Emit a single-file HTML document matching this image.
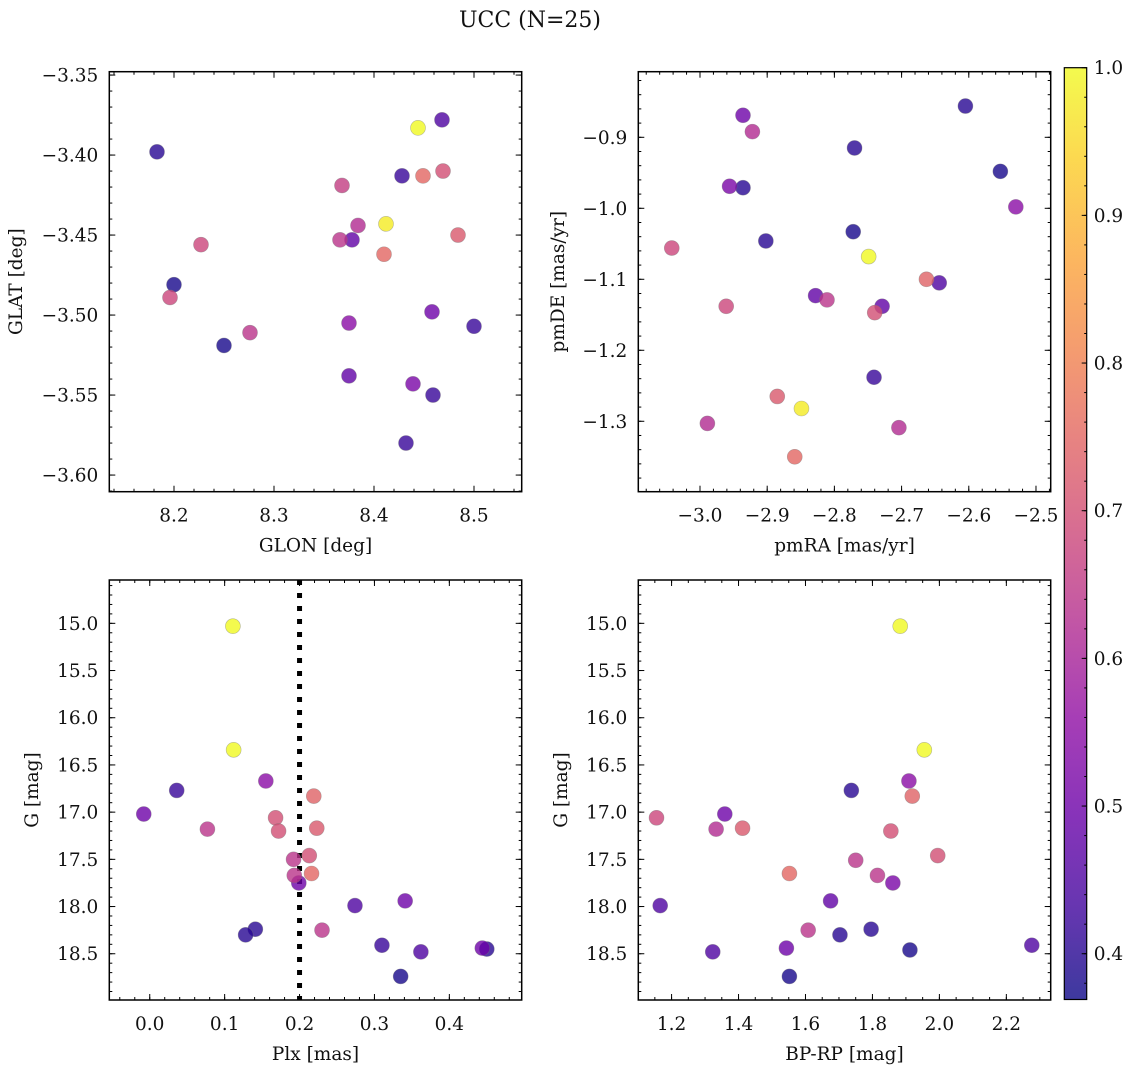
<!DOCTYPE html>
<html><head><meta charset="utf-8">
<style>
html,body{margin:0;padding:0;background:#fff;}
svg{display:block;}
text{font-family:"DejaVu Serif","Liberation Serif",serif;fill:#111;}
</style></head>
<body>
<svg id="fig" width="1136" height="1067" viewBox="0 0 1136 1067" xmlns="http://www.w3.org/2000/svg">
<text x="530" y="27" font-size="22" text-anchor="middle">UCC (N=25)</text>
</svg>
<script>
// ---------- data ----------
const glon = [8.183,8.444,8.468,8.428,8.449,8.469,8.368,8.384,8.412,8.366,8.378,8.484,8.410,8.227,8.200,8.196,8.276,8.250,8.375,8.458,8.500,8.375,8.439,8.459,8.432];
const glat = [-3.398,-3.383,-3.378,-3.413,-3.413,-3.410,-3.419,-3.444,-3.443,-3.453,-3.453,-3.450,-3.462,-3.456,-3.481,-3.489,-3.511,-3.519,-3.505,-3.498,-3.507,-3.538,-3.543,-3.550,-3.580];
const probA = [0.40,1.0,0.45,0.42,0.75,0.70,0.66,0.62,0.98,0.64,0.48,0.72,0.75,0.68,0.38,0.68,0.64,0.38,0.55,0.50,0.42,0.48,0.52,0.42,0.42];

const pmra = [-2.605,-2.936,-2.922,-2.770,-2.956,-2.936,-2.553,-2.530,-2.902,-3.042,-2.772,-2.749,-2.663,-2.644,-2.828,-2.811,-2.961,-2.729,-2.740,-2.741,-2.885,-2.849,-2.989,-2.704,-2.859];
const pmde = [-0.856,-0.869,-0.892,-0.915,-0.969,-0.971,-0.948,-0.998,-1.046,-1.056,-1.033,-1.068,-1.100,-1.105,-1.123,-1.129,-1.138,-1.138,-1.147,-1.238,-1.265,-1.282,-1.303,-1.309,-1.350];
const probB = [0.40,0.50,0.62,0.40,0.52,0.40,0.38,0.55,0.40,0.68,0.38,1.0,0.74,0.45,0.48,0.64,0.68,0.48,0.70,0.42,0.72,0.98,0.62,0.62,0.75];

const plx = [0.111,0.112,0.155,0.036,-0.008,0.077,0.219,0.168,0.172,0.223,0.213,0.192,0.216,0.193,0.199,0.274,0.341,0.141,0.128,0.230,0.310,0.362,0.335,0.444,0.450];
const gmagC = [15.03,16.34,16.67,16.77,17.02,17.18,16.83,17.06,17.20,17.17,17.46,17.50,17.65,17.67,17.75,17.99,17.94,18.24,18.30,18.25,18.41,18.48,18.74,18.44,18.45];
const probC = [1.0,1.0,0.55,0.42,0.50,0.64,0.74,0.70,0.70,0.72,0.70,0.64,0.75,0.64,0.50,0.45,0.50,0.40,0.40,0.64,0.42,0.45,0.38,0.50,0.40];
const plxLine = 0.2;

const bprp = [1.883,1.955,1.909,1.919,1.737,1.155,1.359,1.333,1.412,1.855,1.995,1.750,1.552,1.815,1.861,1.675,1.166,1.608,1.796,1.703,1.543,1.323,1.912,2.276,1.552];
const gmagD = [15.03,16.34,16.67,16.83,16.77,17.06,17.02,17.18,17.17,17.20,17.46,17.51,17.65,17.67,17.75,17.94,17.99,18.25,18.24,18.30,18.44,18.48,18.46,18.41,18.74];
const probD = [1.0,1.0,0.55,0.74,0.40,0.68,0.50,0.62,0.72,0.70,0.70,0.64,0.75,0.64,0.52,0.48,0.45,0.64,0.40,0.40,0.50,0.45,0.38,0.45,0.38];

const cbTicks = [0.4,0.5,0.6,0.7,0.8,0.9,1.0];
const cMin = 0.369, cMax = 1.0;

// ---------- helpers ----------
const NS = "http://www.w3.org/2000/svg";
const svg = document.getElementById('fig');
const FS = 18.5;
function mk(tag, attrs, parent){
  const e = document.createElementNS(NS, tag);
  for (const k in attrs) e.setAttribute(k, attrs[k]);
  (parent||svg).appendChild(e);
  return e;
}
const plasmaStops = [[13,8,135],[65,4,157],[106,0,168],[143,13,164],[177,42,144],[204,71,120],[225,100,98],[242,132,75],[252,166,54],[252,206,37],[240,249,33]];
function plasma(t){
  t = Math.max(0, Math.min(1, t));
  const p = t*10, i = Math.min(9, Math.floor(p)), f = p - i;
  const a = plasmaStops[i], b = plasmaStops[i+1];
  return `rgb(${Math.round(a[0]+(b[0]-a[0])*f)},${Math.round(a[1]+(b[1]-a[1])*f)},${Math.round(a[2]+(b[2]-a[2])*f)})`;
}
function fmt(v, d){ const s = v.toFixed(d); return s.replace('-', '\u2212'); }
function lin(d0,d1,r0,r1){ return v => r0 + (v-d0)/(d1-d0)*(r1-r0); }

function panel(cfg){
  const g = mk('g', {});
  
  
  const {x0,x1,y0,y1} = cfg;
  const sx = lin(cfg.xd[0], cfg.xd[1], x0, x1);
  const sy = lin(cfg.yd[0], cfg.yd[1], y1, y0);
  const tk = mk('g', {stroke:'#000','stroke-width':1}, g);
  
  
  const eps = 1e-9;
  function each(lo, hi, step, fn){
    const s = Math.ceil((lo - eps)/step);
    for (let k = s; k*step <= hi + eps; k++) fn(k*step);
  }
  const xlo = Math.min(...cfg.xd), xhi = Math.max(...cfg.xd);
  const ylo = Math.min(...cfg.yd), yhi = Math.max(...cfg.yd);
  each(xlo, xhi, cfg.xminor, v => { const p = sx(v);
    mk('line',{x1:p,x2:p,y1:y1,y2:y1-3},tk); mk('line',{x1:p,x2:p,y1:y0,y2:y0+3},tk); });
  each(ylo, yhi, cfg.yminor, v => { const p = sy(v);
    mk('line',{x1:x0,x2:x0+3,y1:p,y2:p},tk); mk('line',{x1:x1,x2:x1-3,y1:p,y2:p},tk); });
  cfg.xticks.forEach(v => { const p = sx(v);
    mk('line',{x1:p,x2:p,y1:y1,y2:y1-6},tk); mk('line',{x1:p,x2:p,y1:y0,y2:y0+6},tk);
    const t = mk('text',{x:p,y:y1+30,'font-size':FS,'text-anchor':'middle'},g);
    
    
    t.textContent = fmt(v, cfg.xdec); });
  cfg.yticks.forEach(v => { const p = sy(v);
    mk('line',{x1:x0,x2:x0+6,y1:p,y2:p},tk); mk('line',{x1:x1,x2:x1-6,y1:p,y2:p},tk);
    const t = mk('text',{x:x0-11,y:p+6.5,'font-size':FS,'text-anchor':'end'},g);
    
    
    t.textContent = fmt(v, cfg.ydec); });
  if (cfg.vline !== undefined){
    const p = sx(cfg.vline);
    const l = mk('line',{x1:p,x2:p,y1:y0,y2:y1,stroke:'#000','stroke-width':5,'stroke-dasharray':'5 8'},g);
    
    
  }
  const pts = mk('g',{},g);
  
  
  const order = cfg.c.map((c,i)=>i).sort((a,b)=>cfg.c[a]-cfg.c[b]);
  order.forEach(i => {
    const c = mk('circle',{cx:sx(cfg.x[i]),cy:sy(cfg.y[i]),r:7.5,fill:plasma((cfg.c[i]-cMin)/(cMax-cMin)),'fill-opacity':0.8,stroke:'#777','stroke-opacity':0.5,'stroke-width':0.6},pts);
    
    
  });
  const fr = mk('rect',{x:x0,y:y0,width:x1-x0,height:y1-y0,fill:'none',stroke:'#000','stroke-width':1.5},g);
  
  
  const xl = mk('text',{x:(x0+x1)/2,y:y1+60,'font-size':FS,'text-anchor':'middle'},g);
  
  
  xl.textContent = cfg.xlabel;
  const yx = cfg.ylabx, yy = (y0+y1)/2;
  const yl = mk('text',{x:yx,y:yy,'font-size':FS,'text-anchor':'middle',transform:`rotate(-90 ${yx} ${yy})`},g);
  
  
  yl.textContent = cfg.ylabel;
}

panel({name:'glon-glat-panel', x0:109.3,x1:521.7,y0:71.7,y1:491.7, xd:[8.1353,8.5477], yd:[-3.6104,-3.3479],
  xticks:[8.2,8.3,8.4,8.5], xminor:0.02, xdec:1, yticks:[-3.35,-3.40,-3.45,-3.50,-3.55,-3.60], yminor:0.01, ydec:2,
  x:glon, y:glat, c:probA, xlabel:'GLON [deg]', ylabel:'GLAT [deg]', ylabx:22});
panel({name:'pm-panel', x0:638.3,x1:1050.7,y0:71.7,y1:491.7, xd:[-3.0918,-2.4781], yd:[-1.3992,-0.8076],
  xticks:[-3.0,-2.9,-2.8,-2.7,-2.6,-2.5], xminor:0.02, xdec:1, yticks:[-0.9,-1.0,-1.1,-1.2,-1.3], yminor:0.02, ydec:1,
  x:pmra, y:pmde, c:probB, xlabel:'pmRA [mas/yr]', ylabel:'pmDE [mas/yr]', ylabx:564});
panel({name:'plx-g-panel', x0:109.3,x1:521.7,y0:580,y1:1000, xd:[-0.054,0.4966], yd:[18.99,14.541],
  xticks:[0.0,0.1,0.2,0.3,0.4], xminor:0.02, xdec:1, yticks:[15.0,15.5,16.0,16.5,17.0,17.5,18.0,18.5], yminor:0.1, ydec:1,
  x:plx, y:gmagC, c:probC, xlabel:'Plx [mas]', ylabel:'G [mag]', ylabx:38, vline:plxLine});
panel({name:'color-g-panel', x0:638.3,x1:1050.7,y0:580,y1:1000, xd:[1.1006,2.3325], yd:[18.99,14.541],
  xticks:[1.2,1.4,1.6,1.8,2.0,2.2], xminor:0.05, xdec:1, yticks:[15.0,15.5,16.0,16.5,17.0,17.5,18.0,18.5], yminor:0.1, ydec:1,
  x:bprp, y:gmagD, c:probD, xlabel:'BP-RP [mag]', ylabel:'G [mag]', ylabx:567});

// ---------- colorbar ----------
(function(){
  const cx0 = 1064.3, cx1 = 1086.7, cy0 = 67.7, cy1 = 999.5;
  const sc = lin(cMin, cMax, cy1, cy0);
  const g = mk('g',{});
  
  
  const defs = mk('defs',{},g);
  const grad = mk('linearGradient',{id:'cbg',x1:0,y1:1,x2:0,y2:0},defs);
  for (let i = 0; i <= 20; i++){
    mk('stop',{offset:(i/20),'stop-color':plasma(i/20)},grad);
  }
  const r = mk('rect',{x:cx0,y:cy0,width:cx1-cx0,height:cy1-cy0,fill:'url(#cbg)','fill-opacity':0.8},g);
  
  
  for (let k = 19; k <= 50; k++){ const v = k*0.02; if (v < cMin || v > cMax+1e-9) continue;
    const p = sc(v); mk('line',{x1:cx1,x2:cx1-2.5,y1:p,y2:p,stroke:'#000','stroke-width':1},g); }
  cbTicks.forEach(v => { const p = sc(v);
    mk('line',{x1:cx1,x2:cx1-5,y1:p,y2:p,stroke:'#000','stroke-width':1},g);
    const t = mk('text',{x:cx1+7,y:p+6.5,'font-size':FS},g);
    
    
    t.textContent = v.toFixed(1); });
  mk('rect',{x:cx0,y:cy0,width:cx1-cx0,height:cy1-cy0,fill:'none',stroke:'#000','stroke-width':1.2},g);
})();
</script>
</body></html>
